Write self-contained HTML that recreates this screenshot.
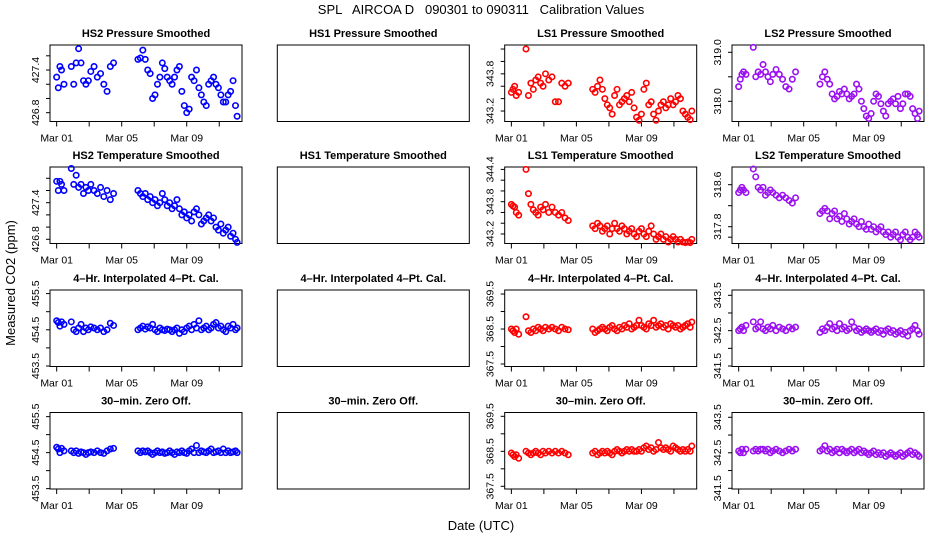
<!DOCTYPE html>
<html><head><meta charset="utf-8"><style>
html,body{margin:0;padding:0;background:#fff;}
svg{display:block;font-family:"Liberation Sans",sans-serif;}
</style></head><body>
<svg id="chart" width="936" height="540" viewBox="0 0 936 540" xmlns="http://www.w3.org/2000/svg">
<rect x="0" y="0" width="936" height="540" fill="#fff"/>
<text x="481" y="14" font-size="13" text-anchor="middle" xml:space="preserve">SPL   AIRCOA D   090301 to 090311   Calibration Values</text>
<text transform="translate(15,283) rotate(-90)" font-size="13" text-anchor="middle">Measured CO2 (ppm)</text>
<text x="481" y="530" font-size="13" text-anchor="middle">Date (UTC)</text>
<g id="panels"></g>
</svg>
<script>
// sample times, days since Mar 01 00:00 UTC
const times = [0.0,0.1,0.2,0.3,0.45,0.9,1.05,1.2,1.35,1.5,1.65,1.8,1.95,2.1,2.3,2.5,2.7,2.9,3.1,3.3,3.5,
5.0,5.15,5.3,5.45,5.6,5.75,5.9,6.05,6.2,6.35,6.5,6.65,6.8,6.95,7.1,7.25,7.4,7.55,7.7,7.85,8.0,8.15,8.3,8.45,8.6,8.75,8.9,9.05,9.2,9.35,9.5,9.65,9.8,9.95,10.1,10.25,10.4,10.55,10.7,10.85,11.0,11.1];
const xTickDays = [0,2,4,6,8,10];
const xTickLabels = ["Mar 01","","Mar 05","","Mar 09",""];

const hs2Pressure = [427.3,427.15,427.45,427.4,427.2,427.45,427.2,427.5,427.7,427.5,427.25,427.2,427.25,427.38,427.45,427.3,427.35,427.2,427.1,427.45,427.5,
427.55,427.57,427.68,427.55,427.4,427.35,427.0,427.05,427.2,427.3,427.5,427.42,427.3,427.25,427.2,427.3,427.4,427.45,427.1,426.9,426.8,426.85,427.3,427.25,427.4,427.15,427.05,426.95,426.9,427.2,427.25,427.3,427.2,427.15,427.05,426.95,426.95,427.05,427.1,427.25,426.9,426.75];
const hs2Temp = [427.75,427.6,427.75,427.7,427.6,427.96,427.7,427.85,427.65,427.7,427.55,427.65,427.6,427.7,427.6,427.55,427.65,427.5,427.6,427.45,427.55,
427.6,427.55,427.5,427.55,427.45,427.5,427.4,427.45,427.35,427.4,427.55,427.45,427.35,427.4,427.3,427.35,427.45,427.3,427.2,427.25,427.15,427.2,427.1,427.25,427.3,427.2,427.05,427.1,427.15,427.2,427.1,427.15,427.0,426.95,427.05,426.9,426.95,427.0,426.85,426.9,426.8,426.75];
const ls1Pressure = [343.5,343.55,343.6,343.45,343.5,344.2,343.45,343.65,343.55,343.7,343.75,343.65,343.6,343.8,343.7,343.75,343.35,343.35,343.65,343.6,343.65,
343.55,343.5,343.6,343.7,343.55,343.4,343.3,343.25,343.15,343.45,343.55,343.3,343.35,343.4,343.45,343.35,343.5,343.25,343.1,343.05,343.15,343.55,343.65,343.3,343.35,343.15,343.05,343.2,343.3,343.35,343.25,343.3,343.4,343.3,343.35,343.45,343.4,343.2,343.15,343.1,343.06,343.2];
const ls2Pressure = [318.3,318.45,318.55,318.6,318.55,319.1,318.5,318.6,318.55,318.75,318.6,318.5,318.4,318.55,318.65,318.55,318.45,318.3,318.25,318.45,318.6,
318.35,318.5,318.6,318.45,318.35,318.15,318.05,318.1,318.2,318.15,318.25,318.15,318.05,318.1,318.15,318.35,318.25,318.0,317.85,317.7,317.65,317.75,318.0,318.15,318.1,317.95,317.8,317.7,317.95,318.0,318.05,317.95,318.1,317.85,317.95,318.15,318.15,318.1,317.85,317.75,317.65,317.8];
const ls1Temp = [343.75,343.72,343.7,343.6,343.55,344.4,343.95,343.75,343.65,343.6,343.55,343.7,343.65,343.75,343.6,343.7,343.6,343.55,343.6,343.5,343.45,
343.35,343.3,343.4,343.35,343.25,343.3,343.35,343.2,343.3,343.4,343.3,343.25,343.35,343.3,343.2,343.25,343.3,343.2,343.15,343.25,343.3,343.2,343.15,343.25,343.35,343.2,343.1,343.15,343.2,343.1,343.15,343.05,343.1,343.15,343.1,343.05,343.1,343.05,343.04,343.05,343.04,343.1];
const ls2Temp = [318.45,318.5,318.55,318.5,318.45,318.9,318.75,318.55,318.5,318.55,318.4,318.45,318.5,318.45,318.4,318.35,318.4,318.35,318.3,318.25,318.35,
318.05,318.1,318.15,318.1,317.95,318.05,318.1,317.95,318.0,317.9,318.05,317.95,317.85,317.9,317.95,317.85,317.8,317.9,317.8,317.75,317.85,317.75,317.8,317.7,317.75,317.8,317.7,317.65,317.7,317.6,317.65,317.7,317.6,317.55,317.65,317.7,317.6,317.55,317.6,317.7,317.65,317.6];
const hs2Interp = [454.75,454.7,454.6,454.72,454.65,454.72,454.5,454.45,454.55,454.65,454.45,454.55,454.5,454.58,454.55,454.5,454.55,454.45,454.5,454.68,454.62,
454.5,454.55,454.6,454.52,454.58,454.55,454.65,454.5,454.45,454.55,454.5,454.48,454.52,454.5,454.45,454.5,454.55,454.4,454.5,454.45,454.55,454.6,454.5,454.65,454.55,454.75,454.5,454.55,454.6,454.5,454.55,454.65,454.7,454.55,454.6,454.5,454.45,454.6,454.55,454.65,454.5,454.55];
const hs2Zero = [454.65,454.6,454.5,454.62,454.55,454.55,454.5,454.55,454.48,454.52,454.5,454.45,454.5,454.52,454.5,454.55,454.5,454.48,454.55,454.6,454.62,
454.55,454.5,454.55,454.52,454.55,454.5,454.45,454.5,454.55,454.5,454.52,454.48,454.5,454.55,454.5,454.45,454.52,454.5,454.55,454.5,454.48,454.55,454.6,454.5,454.7,454.5,454.55,454.52,454.5,454.55,454.6,454.5,454.52,454.55,454.5,454.6,454.5,454.55,454.5,454.52,454.55,454.5];
const ls1Interp = [368.5,368.45,368.4,368.5,368.35,368.85,368.45,368.4,368.5,368.45,368.55,368.5,368.45,368.55,368.5,368.55,368.5,368.45,368.55,368.5,368.48,
368.5,368.4,368.45,368.5,368.55,368.5,368.45,368.55,368.6,368.5,368.45,368.55,368.5,368.6,368.55,368.65,368.5,368.55,368.6,368.75,368.6,368.55,368.5,368.65,368.6,368.75,368.55,368.6,368.65,368.55,368.6,368.5,368.65,368.6,368.55,368.6,368.5,368.55,368.6,368.65,368.55,368.7];
const ls1Zero = [368.45,368.4,368.35,368.4,368.3,368.5,368.45,368.4,368.45,368.5,368.45,368.4,368.5,368.45,368.5,368.45,368.5,368.45,368.5,368.45,368.4,
368.45,368.5,368.4,368.45,368.5,368.45,368.5,368.45,368.4,368.5,368.55,368.5,368.45,368.5,368.55,368.5,368.55,368.5,368.5,368.55,368.5,368.6,368.65,368.55,368.6,368.5,368.55,368.75,368.6,368.55,368.6,368.55,368.5,368.65,368.6,368.55,368.5,368.55,368.5,368.55,368.5,368.65];
const ls2Interp = [342.5,342.55,342.6,342.5,342.65,342.75,342.55,342.6,342.75,342.55,342.5,342.6,342.55,342.65,342.5,342.6,342.55,342.5,342.6,342.55,342.6,
342.45,342.55,342.5,342.6,342.7,342.55,342.6,342.5,342.7,342.55,342.6,342.5,342.55,342.75,342.6,342.5,342.55,342.45,342.5,342.55,342.5,342.45,342.5,342.55,342.45,342.5,342.4,342.5,342.55,342.45,342.5,342.4,342.45,342.5,342.4,342.45,342.35,342.5,342.55,342.65,342.5,342.4];
const ls2Zero = [342.55,342.5,342.6,342.5,342.6,342.55,342.6,342.55,342.6,342.6,342.55,342.6,342.5,342.55,342.6,342.55,342.5,342.55,342.6,342.55,342.6,
342.55,342.6,342.7,342.55,342.6,342.5,342.55,342.6,342.5,342.6,342.55,342.5,342.55,342.6,342.5,342.55,342.6,342.5,342.55,342.5,342.45,342.5,342.55,342.45,342.5,342.45,342.5,342.4,342.45,342.5,342.45,342.4,342.45,342.5,342.4,342.45,342.5,342.55,342.45,342.5,342.45,342.4];

const panels = [
 {name:"hs2-pressure",title:"HS2 Pressure Smoothed",col:0,row:0,yMin:426.676,yMax:427.752,ticks:[426.8,427.0,427.2,427.4,427.6],labels:[426.8,427.4],data:hs2Pressure,color:"#0000ff"},
 {name:"hs1-pressure",title:"HS1 Pressure Smoothed",col:1,row:0,empty:true},
 {name:"ls1-pressure",title:"LS1 Pressure Smoothed",col:2,row:0,yMin:343.031,yMax:344.265,ticks:[343.2,343.4,343.6,343.8,344.0,344.2],labels:[343.2,343.8],data:ls1Pressure,color:"#ff0000"},
 {name:"ls2-pressure",title:"LS2 Pressure Smoothed",col:3,row:0,yMin:317.588,yMax:319.149,ticks:[318.0,318.5,319.0],labels:[318.0,319.0],data:ls2Pressure,color:"#9a10f0"},
 {name:"hs2-temperature",title:"HS2 Temperature Smoothed",col:0,row:1,yMin:426.731,yMax:427.985,ticks:[426.8,427.0,427.2,427.4,427.6,427.8],labels:[426.8,427.4],data:hs2Temp,color:"#0000ff"},
 {name:"hs1-temperature",title:"HS1 Temperature Smoothed",col:1,row:1,empty:true},
 {name:"ls1-temperature",title:"LS1 Temperature Smoothed",col:2,row:1,yMin:343.023,yMax:344.445,ticks:[343.2,343.4,343.6,343.8,344.0,344.2,344.4],labels:[343.2,343.8,344.4],data:ls1Temp,color:"#ff0000"},
 {name:"ls2-temperature",title:"LS2 Temperature Smoothed",col:3,row:1,yMin:317.48,yMax:318.937,ticks:[317.6,317.8,318.2,318.6],labels:[317.8,318.6],data:ls2Temp,color:"#9a10f0"},
 {name:"hs2-interp",title:"4\u2013Hr. Interpolated 4\u2013Pt. Cal.",col:0,row:2,yMin:453.486,yMax:455.599,ticks:[453.5,454.0,454.5,455.0,455.5],labels:[453.5,454.5,455.5],data:hs2Interp,color:"#0000ff"},
 {name:"hs1-interp",title:"4\u2013Hr. Interpolated 4\u2013Pt. Cal.",col:1,row:2,empty:true},
 {name:"ls1-interp",title:"4\u2013Hr. Interpolated 4\u2013Pt. Cal.",col:2,row:2,yMin:367.429,yMax:369.615,ticks:[367.5,368.0,368.5,369.0,369.5],labels:[367.5,368.5,369.5],data:ls1Interp,color:"#ff0000"},
 {name:"ls2-interp",title:"4\u2013Hr. Interpolated 4\u2013Pt. Cal.",col:3,row:2,yMin:341.486,yMax:343.65,ticks:[341.5,342.0,342.5,343.0,343.5],labels:[341.5,342.5,343.5],data:ls2Interp,color:"#9a10f0"},
 {name:"hs2-zero",title:"30\u2013min. Zero Off.",col:0,row:3,yMin:453.49,yMax:455.615,ticks:[453.5,454.0,454.5,455.0,455.5],labels:[453.5,454.5,455.5],data:hs2Zero,color:"#0000ff"},
 {name:"hs1-zero",title:"30\u2013min. Zero Off.",col:1,row:3,empty:true},
 {name:"ls1-zero",title:"30\u2013min. Zero Off.",col:2,row:3,yMin:367.423,yMax:369.609,ticks:[367.5,368.0,368.5,369.0,369.5],labels:[367.5,368.5,369.5],data:ls1Zero,color:"#ff0000"},
 {name:"ls2-zero",title:"30\u2013min. Zero Off.",col:3,row:3,yMin:341.48,yMax:343.635,ticks:[341.5,342.0,342.5,343.0,343.5],labels:[341.5,342.5,343.5],data:ls2Zero,color:"#9a10f0"}
];

const NS = "http://www.w3.org/2000/svg";
const colLeft = [50,277.3,504.7,732];
const rowTop = [45,167,290,412.5];
const PW = 192, PH = 76.5;
const X0 = -0.41, X1 = 11.4;
const root = document.getElementById('panels');

function mk(tag, attrs, parent){
  const e = document.createElementNS(NS, tag);
  for (const k in attrs) e.setAttribute(k, attrs[k]);
  parent.appendChild(e);
  return e;
}

panels.forEach(p => {
  const L = colLeft[p.col], T = rowTop[p.row];
  const g = mk('g', {}, root);
  
  
  const t = mk('text', {x: L + PW/2, y: T - 8, 'font-size': 11, 'font-weight': 'bold', 'text-anchor': 'middle'}, g);
  t.textContent = p.title;
  
  
  const box = mk('rect', {x: L, y: T, width: PW, height: PH, fill: 'none', stroke: '#000', 'stroke-width': 1}, g);
  
  
  if (p.empty) return;
  const xs = d => L + (d - X0) / (X1 - X0) * PW;
  const ys = v => T + PH - (v - p.yMin) / (p.yMax - p.yMin) * PH;
  const xa = mk('g', {}, g);
  
  
  xTickDays.forEach((d, i) => {
    mk('line', {x1: xs(d), x2: xs(d), y1: T + PH, y2: T + PH + 5, stroke: '#000'}, xa);
    if (xTickLabels[i]) {
      const lt = mk('text', {x: xs(d), y: T + PH + 20, 'font-size': 10.5, 'text-anchor': 'middle'}, xa);
      lt.textContent = xTickLabels[i];
    }
  });
  const ya = mk('g', {}, g);
  
  
  p.ticks.forEach(v => {
    mk('line', {x1: L - 4, x2: L, y1: ys(v), y2: ys(v), stroke: '#000'}, ya);
  });
  p.labels.forEach(v => {
    const lt = mk('text', {transform: 'translate(' + (L - 11) + ',' + ys(v) + ') rotate(-90)', 'font-size': 10.5, 'text-anchor': 'middle'}, ya);
    lt.textContent = v.toFixed(1);
  });
  const pts = mk('g', {fill: 'none', stroke: p.color, 'stroke-width': 1.6}, g);
  
  
  p.data.forEach((v, i) => {
    const c = mk('circle', {cx: xs(times[i]), cy: ys(v), r: 2.7}, pts);
    
    
  });
});
</script>
</body></html>
